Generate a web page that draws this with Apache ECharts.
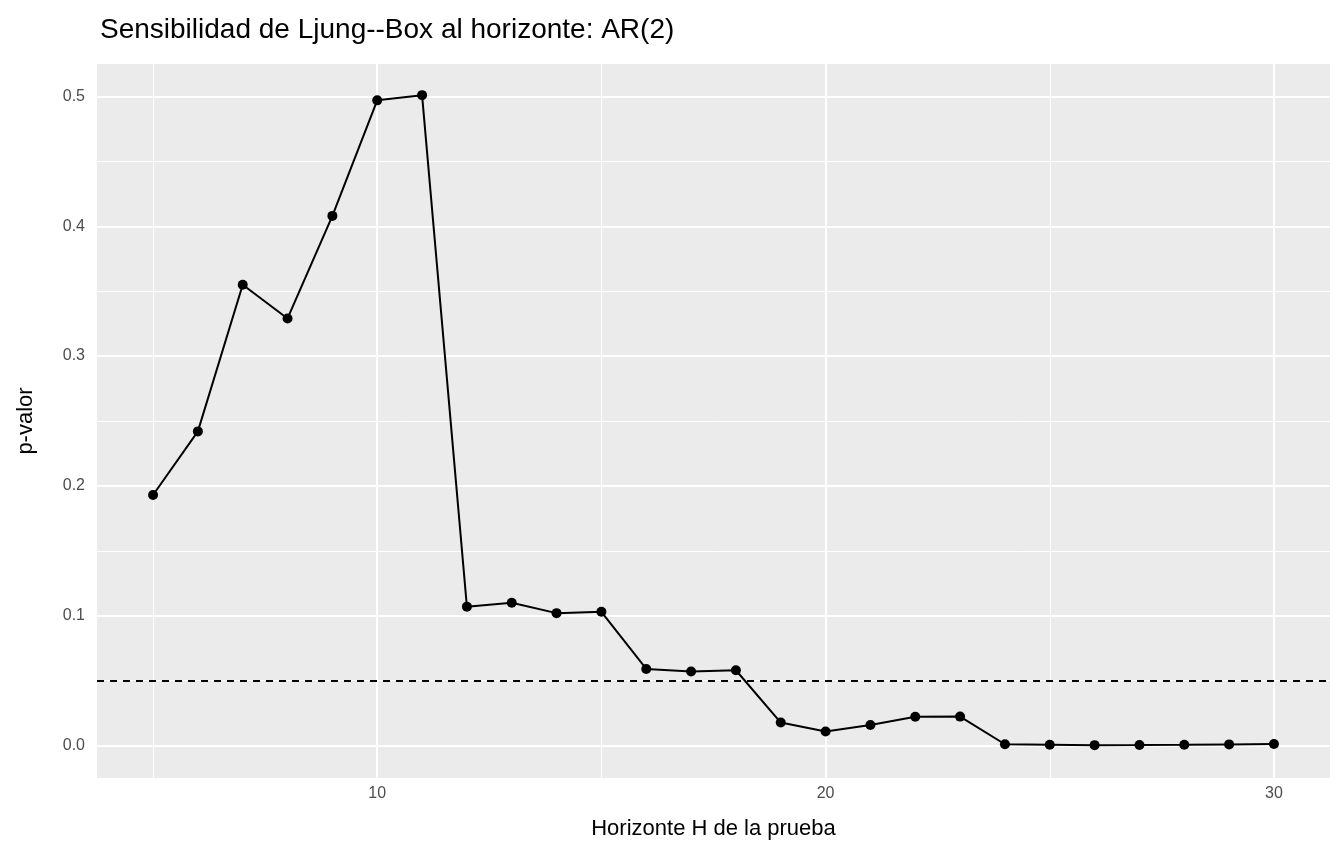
<!DOCTYPE html>
<html><head><meta charset="utf-8">
<script src="https://cdn.jsdelivr.net/npm/echarts@6/dist/echarts.min.js"></script>
<style>html,body{margin:0;padding:0;background:#fff}#chart{width:1344px;height:864px}</style>
</head><body><div id="chart"></div>
<script>
const horizons = [5,6,7,8,9,10,11,12,13,14,15,16,17,18,19,20,21,22,23,24,25,26,27,28,29,30];
const pValues = [0.193,0.242,0.355,0.329,0.408,0.497,0.501,0.107,0.110,0.102,0.103,0.059,0.057,0.058,0.0177,0.0108,0.0158,0.0222,0.0223,0.0010,0.0006,0.0003,0.0004,0.0006,0.0009,0.0012];
const alpha = 0.05;
const xMajor = [10,20,30], xMinor = [5,15,25];
const yMajor = [0,0.1,0.2,0.3,0.4,0.5], yMinor = [0.05,0.15,0.25,0.35,0.45];

const gridLines = []
xMinor.forEach(v => gridLines.push({xAxis: v, lineStyle: {color: '#fff', width: 1, type: 'solid'}}))
yMinor.forEach(v => gridLines.push({yAxis: v, lineStyle: {color: '#fff', width: 1, type: 'solid'}}))
xMajor.forEach(v => gridLines.push({xAxis: v, lineStyle: {color: '#fff', width: 2, type: 'solid'}}))
yMajor.forEach(v => gridLines.push({yAxis: v, lineStyle: {color: '#fff', width: 2, type: 'solid'}}))

const near = (v, list) => list.some(t => Math.abs(v - t) < 1e-6)

let chart = echarts.init(document.getElementById('chart'))
chart.setOption({
  animation: false,
  textStyle: {fontFamily: 'Liberation Sans, Arial, sans-serif'},
  title: {text: 'Sensibilidad de Ljung--Box al horizonte: AR(2)', left: 95, top: 11,
    textStyle: {fontSize: 28, fontWeight: 'normal', color: '#000'}},
  grid: {left: 97, right: 14, top: 64, bottom: 86, show: true, backgroundColor: '#EBEBEB', borderWidth: 0},
  xAxis: {type: 'value', min: 3.75, max: 31.25, interval: 1.25,
    name: 'Horizonte H de la prueba', nameLocation: 'middle', nameGap: 40,
    nameTextStyle: {fontSize: 22, color: '#000'},
    axisLine: {show: false}, axisTick: {show: false}, splitLine: {show: false},
    axisLabel: {fontSize: 16, color: '#4d4d4d', margin: 8, showMinLabel: true, showMaxLabel: true,
      formatter: v => near(v, xMajor) ? String(v) : ''}},
  yAxis: {type: 'value', min: -0.025, max: 0.525, interval: 0.025,
    name: 'p-valor', nameLocation: 'middle', nameGap: 60,
    nameTextStyle: {fontSize: 22, color: '#000'},
    axisLine: {show: false}, axisTick: {show: false}, splitLine: {show: false},
    axisLabel: {fontSize: 16, color: '#4d4d4d', margin: 12,
      formatter: v => near(v, yMajor) ? v.toFixed(1) : ''}},
  series: [{
    type: 'line', data: [], silent: true, z: 1, zlevel: 0,
    markLine: {symbol: 'none', silent: true, z: 1, label: {show: false}, data: gridLines}
  }, {
    type: 'line', data: horizons.map((h, i) => [h, pValues[i]]), zlevel: 1,
    symbol: 'circle', symbolSize: 10, itemStyle: {color: '#000'},
    lineStyle: {color: '#000', width: 2},
    markLine: {symbol: 'none', silent: true, label: {show: false},
      lineStyle: {color: '#000', type: [7, 6], width: 2}, data: [{yAxis: alpha}]}
  }]
})
</script></body></html>
